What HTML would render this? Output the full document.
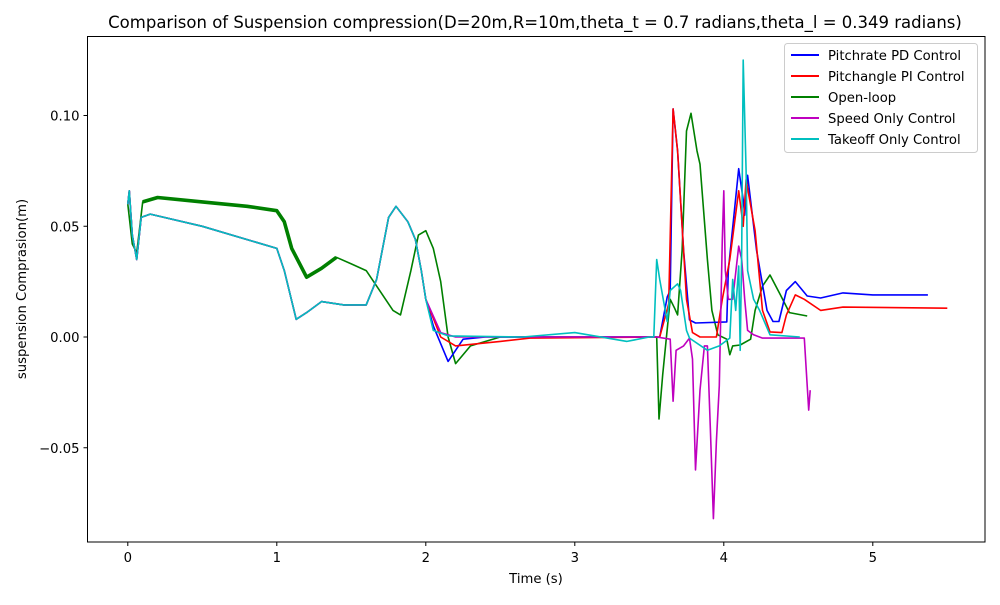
<!DOCTYPE html>
<html><head><meta charset="utf-8"><style>
body{margin:0;background:#fff}
svg text{font-family:"DejaVu Sans","Liberation Sans",sans-serif;fill:#000}
</style></head><body>
<svg id="chart" width="1000" height="600" viewBox="0 0 1000 600" xmlns="http://www.w3.org/2000/svg">
<rect width="1000" height="600" fill="#fff"/>
<text x="535" y="28" font-size="16.5" text-anchor="middle">Comparison of Suspension compression(D=20m,R=10m,theta_t = 0.7 radians,theta_l = 0.349 radians)</text>
<g id="series"></g>
<g id="axes"></g>
<rect x="87.5" y="36.5" width="897.5" height="505.5" fill="none" stroke="#000" stroke-width="1"/>
<text x="536" y="583" font-size="13.2" text-anchor="middle">Time (s)</text>
<text x="26" y="289" font-size="13.2" text-anchor="middle" transform="rotate(-90 26 289)">suspension Comprasion(m)</text>
<g>
<rect x="784.5" y="43.5" width="193" height="109" rx="3" fill="#fff" fill-opacity="0.8" stroke="#ccc"/>
<g id="legend-entries"></g>
</g>
</svg>
<script>
const xTicks=[0,1,2,3,4,5];
const yTicks=[-0.05,0,0.05,0.10];
const yTickLabels=["\u22120.05","0.00","0.05","0.10"];
const seriesNames=["Pitchrate PD Control","Pitchangle PI Control","Open-loop","Speed Only Control","Takeoff Only Control"];
const seriesColors=["#0000ff","#ff0000","#008000","#bf00bf","#00bfbf"];
const commonT=[0,0.01,0.03,0.06,0.09,0.15,0.5,1.0,1.05,1.13,1.2,1.3,1.45,1.6,1.67,1.75,1.8,1.88,1.93,1.97,2.0];
const commonV=[0.060,0.066,0.046,0.035,0.054,0.0555,0.050,0.040,0.030,0.008,0.011,0.016,0.0145,0.0145,0.026,0.054,0.059,0.052,0.044,0.030,0.017];
const pdT=[2.05,2.15,2.25,2.4,3.57,3.62,3.64,3.66,3.69,3.73,3.77,3.81,4.02,4.03,4.10,4.13,4.14,4.16,4.22,4.29,4.33,4.37,4.42,4.48,4.56,4.65,4.8,5.0,5.37];
const pdV=[0.005,-0.011,-0.001,0,0,0.018,0.021,0.103,0.084,0.039,0.0077,0.0063,0.0068,0.03,0.076,0.062,0.055,0.073,0.039,0.012,0.007,0.007,0.021,0.025,0.0185,0.0176,0.0199,0.019,0.019];
const piT=[2.1,2.2,2.5,2.7,3.57,3.63,3.66,3.69,3.75,3.79,3.84,3.95,3.99,4.04,4.10,4.13,4.15,4.21,4.26,4.31,4.39,4.42,4.48,4.54,4.65,4.8,5.5];
const piV=[0.0,-0.004,-0.002,-0.0005,0,0.015,0.103,0.084,0.017,0.002,0,0,0.017,0.035,0.066,0.05,0.071,0.048,0.012,0.0023,0.002,0.01,0.019,0.017,0.012,0.0135,0.013];
const olT=[0,0.03,0.06,0.1,0.2,0.5,0.8,1.0,1.05,1.1,1.2,1.3,1.4,1.5,1.6,1.7,1.78,1.83,1.9,1.95,2.0,2.05,2.1,2.15,2.2,2.3,2.5,3.55,3.565,3.59,3.64,3.67,3.69,3.72,3.75,3.78,3.82,3.84,3.89,3.92,3.96,4.02,4.04,4.06,4.11,4.18,4.21,4.26,4.31,4.38,4.44,4.56];
const olV=[0.060,0.042,0.038,0.061,0.063,0.061,0.059,0.057,0.052,0.040,0.027,0.031,0.036,0.033,0.030,0.020,0.012,0.010,0.030,0.046,0.048,0.040,0.025,0.000,-0.012,-0.004,0,0,-0.037,-0.017,0.017,0.013,0.010,0.039,0.093,0.101,0.084,0.078,0.035,0.012,0.001,-0.001,-0.008,-0.004,-0.0036,-0.001,0.012,0.023,0.028,0.019,0.011,0.0095];
const spT=[2.1,2.2,3.55,3.64,3.66,3.68,3.73,3.77,3.79,3.81,3.84,3.87,3.89,3.91,3.93,3.95,3.97,3.99,4.0,4.01,4.03,4.06,4.10,4.12,4.14,4.16,4.2,4.26,4.54,4.57,4.58];
const spV=[0.002,0,0,-0.001,-0.029,-0.006,-0.004,-0.0005,-0.010,-0.060,-0.024,-0.004,-0.004,-0.042,-0.082,-0.047,-0.022,0.044,0.066,0.030,0.017,0.017,0.041,0.035,0.017,0.003,0.001,-0.0005,-0.0005,-0.033,-0.024];
const tkT=[2.05,2.15,2.65,3.0,3.35,3.5,3.53,3.55,3.57,3.62,3.64,3.69,3.71,3.75,3.77,3.89,3.97,4.04,4.06,4.08,4.10,4.11,4.12,4.13,4.15,4.16,4.2,4.24,4.31,4.51];
const tkV=[0.003,0.0005,0,0.002,-0.002,0,0,0.035,0.026,0.007,0.021,0.024,0.021,0.003,-0.0005,-0.006,-0.004,-0.0005,0.026,0.012,0.032,-0.006,0.039,0.125,0.075,0.030,0.017,0.012,0.001,0];
const X0=87.5,X1=985,Y0=36.5,Y1=542;
function xs(t){return 127.8+t*149;}
function ys(v){return 337-v*2215;}
const NS="http://www.w3.org/2000/svg";
const axes=document.getElementById('axes');
xTicks.forEach(t=>{
 const l=document.createElementNS(NS,'line');
 
 
 l.setAttribute('x1',xs(t));l.setAttribute('x2',xs(t));l.setAttribute('y1',Y1);l.setAttribute('y2',Y1+4);l.setAttribute('stroke','#000');axes.appendChild(l);
 const tx=document.createElementNS(NS,'text');
 
 
 tx.setAttribute('x',xs(t));tx.setAttribute('y',562);tx.setAttribute('font-size','13.2');tx.setAttribute('text-anchor','middle');tx.textContent=String(t);axes.appendChild(tx);
});
yTicks.forEach((v,i)=>{
 const l=document.createElementNS(NS,'line');
 
 
 l.setAttribute('x1',X0-4);l.setAttribute('x2',X0);l.setAttribute('y1',ys(v));l.setAttribute('y2',ys(v));l.setAttribute('stroke','#000');axes.appendChild(l);
 const tx=document.createElementNS(NS,'text');
 
 
 tx.setAttribute('x',X0-8);tx.setAttribute('y',ys(v)+5);tx.setAttribute('font-size','13.2');tx.setAttribute('text-anchor','end');tx.textContent=yTickLabels[i];axes.appendChild(tx);
});
const seriesT=[commonT.concat(pdT),commonT.concat(piT),olT,commonT.concat(spT),commonT.concat(tkT)];
const seriesV=[commonV.concat(pdV),commonV.concat(piV),olV,commonV.concat(spV),commonV.concat(tkV)];
const drawOrder=[2,0,1,3,4];
const sg=document.getElementById('series');
drawOrder.forEach(k=>{
 const p=document.createElementNS(NS,'polyline');
 
 
 p.setAttribute('points',seriesT[k].map((t,i)=>xs(t).toFixed(1)+','+ys(seriesV[k][i]).toFixed(1)).join(' '));
 p.setAttribute('fill','none');p.setAttribute('stroke',seriesColors[k]);p.setAttribute('stroke-width','1.6');p.setAttribute('stroke-linejoin','round');
 sg.insertBefore(p, k===2 ? sg.firstChild : null);
 if(k===2){
  // noisy band of open-loop response in the early phase
  const q=document.createElementNS(NS,'polyline');
  
  
  const pts=[];
  olT.forEach((t,i)=>{ if(t>=0.1 && t<=1.4) pts.push(xs(t).toFixed(1)+','+ys(olV[i]).toFixed(1)); });
  q.setAttribute('points',pts.join(' '));
  q.setAttribute('fill','none');q.setAttribute('stroke',seriesColors[2]);q.setAttribute('stroke-width','3.6');q.setAttribute('stroke-linejoin','round');
  sg.insertBefore(q, p.nextSibling);
 }
});
const lg=document.getElementById('legend-entries');
seriesNames.forEach((n,i)=>{
 const y=55+i*21;
 const l=document.createElementNS(NS,'line');
 
 
 l.setAttribute('x1',791);l.setAttribute('x2',819);l.setAttribute('y1',y);l.setAttribute('y2',y);l.setAttribute('stroke',seriesColors[i]);l.setAttribute('stroke-width','2');lg.appendChild(l);
 const tx=document.createElementNS(NS,'text');
 
 
 tx.setAttribute('x',828);tx.setAttribute('y',y+5);tx.setAttribute('font-size','13.2');tx.textContent=n;lg.appendChild(tx);
});
</script>
</body></html>
